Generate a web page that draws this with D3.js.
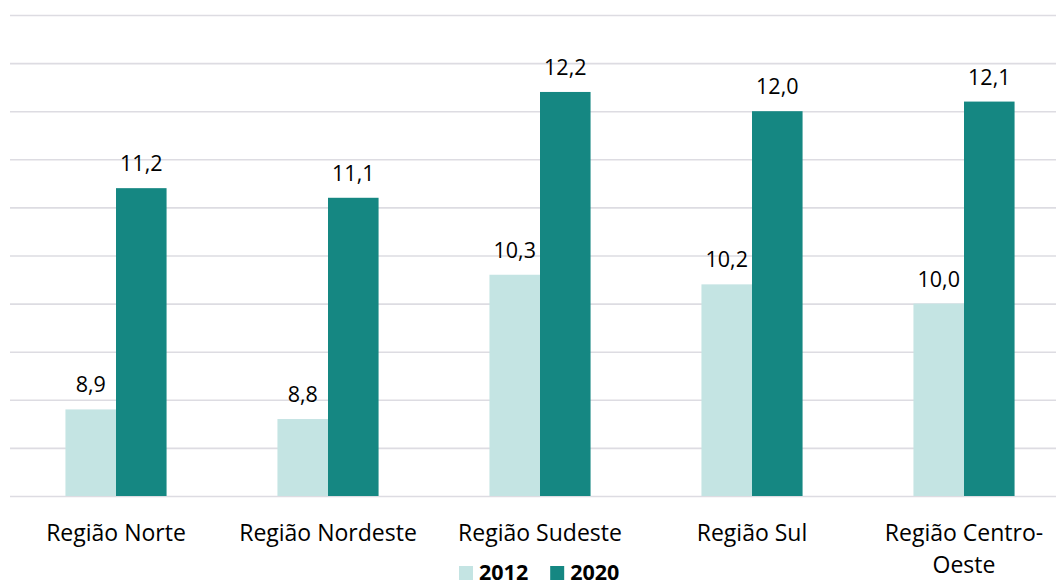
<!DOCTYPE html>
<html>
<head>
<meta charset="utf-8">
<script src="https://cdn.jsdelivr.net/npm/d3@7"></script>
<style>
  html, body { margin: 0; padding: 0; background: #ffffff; }
  svg { display: block; }
  text { font-family: "Open Sans", "Noto Sans", sans-serif; fill: #000000; }
</style>
</head>
<body>
<svg id="chart" width="1056" height="586"></svg>
<script>
// Regions and the two survey years
const categories = ["Região Norte", "Região Nordeste", "Região Sudeste", "Região Sul", "Região Centro-Oeste"];
const years = ["2012", "2020"];
const values2012 = [8.9, 8.8, 10.3, 10.2, 10.0];
const values2020 = [11.2, 11.1, 12.2, 12.0, 12.1];
const gridTicks = [8, 8.5, 9, 9.5, 10, 10.5, 11, 11.5, 12, 12.5, 13];
const colors = ["#c4e4e3", "#158782"];

const W = 1056, H = 586;
const plotLeft = 10, plotRight = 1070, plotTop = 15, plotBottom = 496;

const svg = d3.select("#chart");

const y = d3.scaleLinear().domain([8, 13]).range([plotBottom, plotTop]);
const x0 = d3.scaleBand().domain(categories).range([plotLeft, plotRight])
  .paddingInner(0.523).paddingOuter(0.2615);
const x1 = d3.scaleBand().domain(years).range([0, x0.bandwidth()]);
const color = d3.scaleOrdinal().domain(years).range(colors);

const ptBR = d3.formatLocale({ decimal: ",", thousands: ".", grouping: [3], currency: ["R$", ""] });
const fmt = ptBR.format(".1f");

// horizontal gridlines
const grid = svg.append("g")
  .attr("transform", `translate(${plotLeft},0)`)
  .call(d3.axisLeft(y).tickValues(gridTicks).tickSize(-(W - plotLeft)).tickFormat(""));
grid.select(".domain").remove();
grid.selectAll(".tick line").attr("stroke", "#dddce2").attr("stroke-width", 1.6);

const rows = categories.map((c, i) => ({ cat: c, vals: [values2012[i], values2020[i]] }));

const groups = svg.append("g").selectAll("g")
  .data(rows).join("g")
  .attr("transform", d => `translate(${x0(d.cat)},0)`);

groups.selectAll("rect")
  .data(d => years.map((yr, j) => ({ yr, v: d.vals[j] })))
  .join("rect")
  .attr("x", d => x1(d.yr))
  .attr("y", d => y(d.v))
  .attr("width", x1.bandwidth())
  .attr("height", d => y(8) - y(d.v))
  .attr("fill", d => color(d.yr));

groups.selectAll("text.val")
  .data(d => years.map((yr, j) => ({ yr, v: d.vals[j] })))
  .join("text")
  .attr("class", "val")
  .attr("x", d => x1(d.yr) + x1.bandwidth() / 2)
  .attr("y", d => y(d.v) - 17)
  .attr("text-anchor", "middle")
  .style("font-size", "21.5px")
  .text(d => fmt(d.v));

// category axis labels, wrapped when too wide
const xAxis = svg.append("g");
categories.forEach(c => {
  const cx = x0(c) + x0.bandwidth() / 2;
  const t = xAxis.append("text")
    .attr("x", cx).attr("y", 541)
    .attr("text-anchor", "middle")
    .style("font-size", "23px");
  const tokens = c.match(/[^\s-]+-?|\s+/g).filter(s => s.trim().length);
  let lines = [], cur = "";
  tokens.forEach(tok => {
    const joiner = cur === "" ? "" : (cur.endsWith("-") ? "" : " ");
    const trial = cur + joiner + tok;
    t.text(trial);
    if (cur !== "" && t.node().getComputedTextLength() > 205) {
      lines.push(cur); cur = tok;
    } else {
      cur = trial;
    }
  });
  lines.push(cur);
  t.text(null);
  lines.forEach((ln, i) => {
    t.append("tspan").attr("x", cx).attr("dy", i === 0 ? 0 : 32).text(ln);
  });
});

// legend
const legend = svg.append("g");
let lx = 459;
years.forEach((yr, i) => {
  legend.append("rect")
    .attr("x", lx).attr("y", 566).attr("width", 14).attr("height", 14)
    .attr("fill", color(yr));
  const t = legend.append("text")
    .attr("x", lx + 20).attr("y", 580)
    .style("font-size", "21.5px").style("font-weight", "700")
    .text(yr);
  lx = lx + 20 + t.node().getComputedTextLength() + 22;
});
</script>
</body>
</html>
